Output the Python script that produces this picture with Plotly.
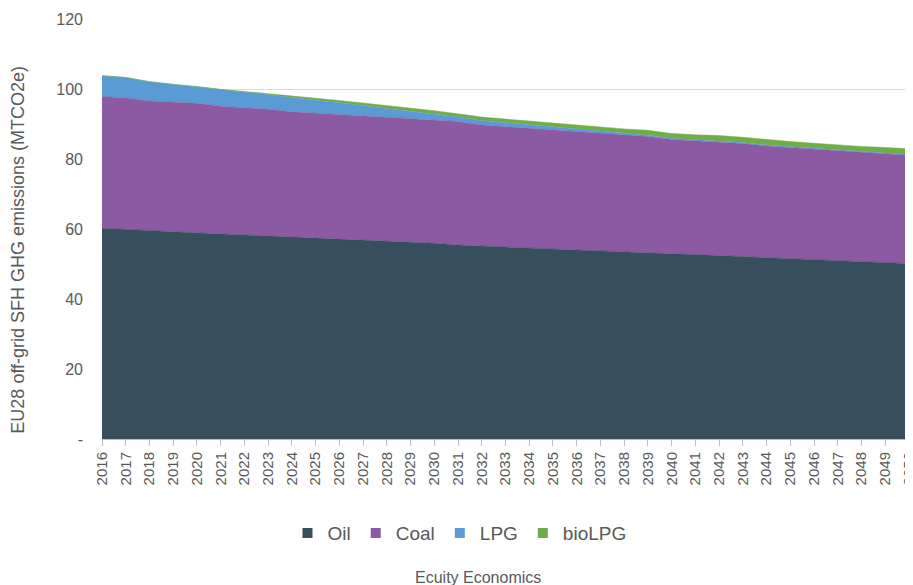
import plotly.graph_objects as go

years = list(range(2016, 2051))
oil = [60.2, 60.0, 59.6, 59.2, 58.9, 58.6, 58.3, 58.1, 57.8, 57.4, 57.1, 56.8, 56.7, 56.2, 55.9,
       55.4, 55.1, 54.9, 54.6, 54.3, 54.1, 53.8, 53.4, 53.0, 52.9, 52.7, 52.4, 52.1, 51.9, 51.5,
       51.3, 51.1, 50.8, 50.5, 50.1]
coal = [37.6, 37.5, 37.0, 37.0, 37.0, 36.5, 36.4, 36.1, 35.7, 35.7, 35.7, 35.6, 35.2, 35.4, 35.3,
        35.3, 34.6, 34.3, 34.1, 34.0, 33.8, 33.6, 33.4, 33.4, 32.7, 32.5, 32.5, 32.3, 31.8, 31.8,
        31.5, 31.2, 31.1, 31.0, 31.0]
lpg = [6.0, 5.8, 5.5, 5.1, 4.8, 4.7, 4.4, 4.2, 4.0, 3.7, 3.3, 2.9, 2.7, 2.2, 1.7,
       1.3, 1.3, 1.2, 1.0, 0.8, 0.6, 0.5, 0.4, 0.4, 0.3, 0.3, 0.3, 0.3, 0.3, 0.2,
       0.2, 0.2, 0.2, 0.2, 0.2]
biolpg = [0.0, 0.0, 0.0, 0.0, 0.05, 0.1, 0.2, 0.3, 0.4, 0.5, 0.6, 0.7, 0.7, 0.8, 0.9,
          0.9, 1.0, 1.0, 1.1, 1.2, 1.2, 1.3, 1.4, 1.4, 1.4, 1.4, 1.5, 1.5, 1.5, 1.5,
          1.5, 1.5, 1.5, 1.6, 1.6]

series = [("Oil", oil, "#374E5C"), ("Coal", coal, "#8B5AA3"),
          ("LPG", lpg, "#5B9BD5"), ("bioLPG", biolpg, "#70AD47")]

y_ticks = [0, 20, 40, 60, 80, 100, 120]
y_ticktext = ["-", "20", "40", "60", "80", "100", "120"]

fig = go.Figure()
for name, vals, col in series:
    fig.add_trace(go.Scatter(
        x=years, y=vals, name=name, mode="lines", stackgroup="one",
        line=dict(width=0.5, color=col), fillcolor=col, showlegend=False))
# legend entries with square swatches
for name, vals, col in series:
    fig.add_trace(go.Scatter(
        x=[None], y=[None], name=name, mode="markers",
        marker=dict(symbol="square", size=10, color=col), showlegend=True))

font_family = "Liberation Sans, Arial, sans-serif"
grey = "#595959"

# page has an 8px body margin: figure sized/offset to compensate
fig.update_layout(
    width=905, height=577,
    margin=dict(l=94, r=4, t=11, b=146, autoexpand=False),
    paper_bgcolor="white", plot_bgcolor="white",
    font=dict(family=font_family, color=grey, size=15),
    showlegend=True,
    legend=dict(orientation="h", x=0.443, xanchor="center", y=-0.224, yanchor="middle",
                font=dict(size=19, color=grey), itemwidth=30, traceorder="normal"),
    xaxis=dict(range=[2016, 2050], tickmode="array", tickvals=years,
               ticktext=[str(y) for y in years], tickangle=-90,
               ticks="outside", ticklen=6, tickcolor="#bfbfbf",
               showline=True, linecolor="#bfbfbf", linewidth=1,
               showgrid=False, zeroline=False, automargin=False,
               ticklabeloverflow="allow",
               tickfont=dict(size=15, color=grey)),
    yaxis=dict(range=[0, 120], tickmode="array", tickvals=y_ticks, ticktext=y_ticktext,
               showgrid=True, gridcolor="#d9d9d9", gridwidth=1, zeroline=False,
               showline=False, ticks="", ticklabelstandoff=18, automargin=False,
               tickfont=dict(size=16, color=grey)),
    annotations=[
        dict(text="EU28 off-grid SFH GHG emissions (MTCO2e)", xref="paper", yref="paper",
             x=-0.104, y=0.451, xanchor="center", yanchor="middle", textangle=-90,
             showarrow=False, font=dict(size=18, color=grey)),
        dict(text="Ecuity Economics", xref="paper", yref="paper",
             x=0.466, y=-0.3286, xanchor="center", yanchor="middle",
             showarrow=False, font=dict(size=16, color=grey))],
)

fig.write_html("out.html")
